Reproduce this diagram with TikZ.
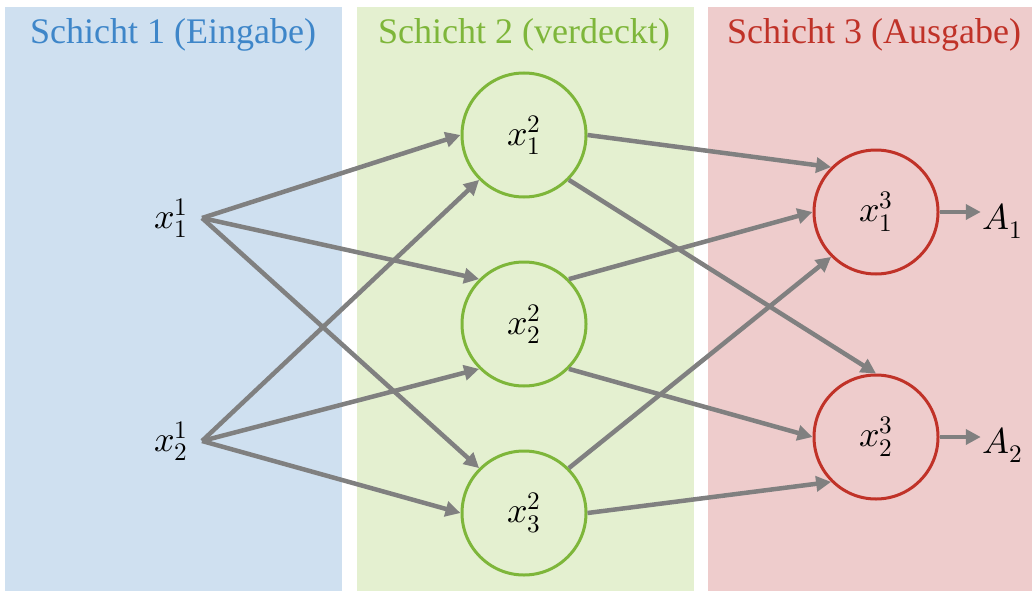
\documentclass[tikz,border=0pt]{standalone}
\usepackage{fontspec}
\usepackage{unicode-math}
\setmainfont{Liberation Serif}
\setmathfont{Latin Modern Math}
\usetikzlibrary{arrows.meta}

\definecolor{bluebg}{RGB}{207,224,240}
\definecolor{greenbg}{RGB}{228,240,208}
\definecolor{redbg}{RGB}{238,204,204}
\definecolor{bluetx}{RGB}{62,134,201}
\definecolor{greentx}{RGB}{126,182,58}
\definecolor{redtx}{RGB}{192,50,40}
\definecolor{arrowgray}{RGB}{128,128,128}

\begin{document}
\begin{tikzpicture}[x=1pt,y=-1pt,
  title/.style={inner sep=0pt, font=\fontsize{36}{38}\selectfont},
  neuron/.style={circle, line width=3pt, minimum size=124pt, inner sep=0pt,
    font=\fontsize{36}{38}\selectfont},
  hidden/.style={neuron, draw=greentx},
  output/.style={neuron, draw=redtx},
  value/.style={inner sep=5pt, font=\fontsize{36}{38}\selectfont},
  link/.style={draw=arrowgray, line width=4.5pt,
    -{Triangle[length=15pt,width=15pt]}}]

\useasboundingbox (0,0) rectangle (1032,591);

% layer panels
\fill[bluebg]  (5,7)   rectangle (342,591);
\fill[greenbg] (357,7) rectangle (694,591);
\fill[redbg]   (708,7) rectangle (1032,591);

% layer titles
\node[title, text=bluetx]  (t1) at (173,35) {Schicht 1 (Eingabe)};
\node[title, text=greentx] (t2) at (524,35) {Schicht 2 (verdeckt)};
\node[title, text=redtx]   (t3) at (874,35) {Schicht 3 (Ausgabe)};

% inputs
\node[value, inner xsep=14pt] (in1) at (171,218) {$x_1^1$};
\node[value, inner xsep=14pt] (in2) at (171,441) {$x_2^1$};

% hidden layer
\node[hidden] (h1) at (524,135) {$x_1^2$};
\node[hidden] (h2) at (524,324) {$x_2^2$};
\node[hidden] (h3) at (524,513) {$x_3^2$};

% output layer
\node[output] (o1) at (876,212) {$x_1^3$};
\node[output] (o2) at (876,437) {$x_2^3$};

% results
\node[value, inner sep=2pt] (a1) at (1003,221) {$A_1$};
\node[value, inner sep=2pt] (a2) at (1003,445) {$A_2$};

% input -> hidden
\draw[link] (in1.east) -- (h1.west);
\draw[link] (in1.east) -- (h2.north west);
\draw[link] (in1.east) -- (h3.north west);
\draw[link] (in2.east) -- (h1.south west);
\draw[link] (in2.east) -- (h2.south west);
\draw[link] (in2.east) -- (h3.west);

% hidden -> output
\draw[link] (h1.east) -- (o1.north west);
\draw[link] (h1.south east) -- (o2.north);
\draw[link] (h2.north east) -- (o1.west);
\draw[link] (h2.south east) -- (o2.west);
\draw[link] (h3.north east) -- (o1.south west);
\draw[link] (h3.east) -- (o2.south west);

% output -> result
\draw[link] (o1.east) -- (o1.east -| a1.west);
\draw[link] (o2.east) -- (o2.east -| a2.west);
\end{tikzpicture}
\end{document}
